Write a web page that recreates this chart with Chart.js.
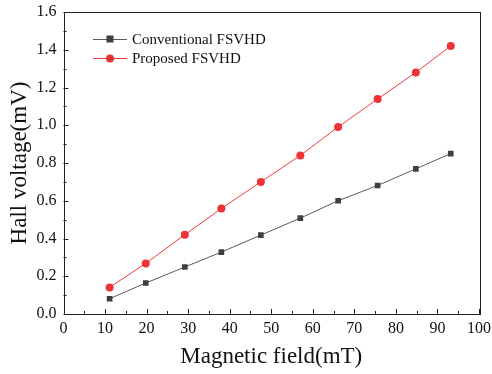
<!DOCTYPE html>
<html>
<head>
<meta charset="utf-8">
<script src="https://cdn.jsdelivr.net/npm/chart.js@4"></script>
<style>
  html, body { margin: 0; padding: 0; background: #fff; }
  canvas { display: block; }
</style>
</head>
<body>
<canvas id="hallChart" width="492" height="374"></canvas>
<script>
// magnetic field (mT) for each measurement
var fieldValues = [11.1, 19.8, 29.2, 38.0, 47.5, 57.0, 66.1, 75.6, 84.8, 93.2];
// Hall voltage (mV)
var conventionalValues = [0.081, 0.164, 0.249, 0.328, 0.418, 0.508, 0.600, 0.681, 0.769, 0.850];
var proposedValues = [0.141, 0.268, 0.420, 0.559, 0.700, 0.840, 0.991, 1.139, 1.280, 1.420];
var seriesLabels = ['Conventional FSVHD', 'Proposed FSVHD'];
var xTickValues = [0, 10, 20, 30, 40, 50, 60, 70, 80, 90, 100];
var yTickValues = [0.0, 0.2, 0.4, 0.6, 0.8, 1.0, 1.2, 1.4, 1.6];

var serif = "'Liberation Serif', 'Times New Roman', serif";

function toPoints(xs, ys) {
    return xs.map(function(x, i) { return { x: x, y: ys[i] }; });
}

// box around the plot, inward ticks and the legend in the upper left
var framePlugin = {
    id: 'frame',
    afterDraw: function(chart) {
        var ctx = chart.ctx;
        var area = chart.chartArea;
        var xs = chart.scales.x;
        var ys = chart.scales.y;
        ctx.save();
        ctx.strokeStyle = '#222';
        ctx.lineWidth = 1;
        ctx.strokeRect(Math.round(area.left) + 0.5, Math.round(area.top) + 0.5,
            Math.round(area.right - area.left), Math.round(area.bottom - area.top));

        ctx.beginPath();
        for (var v = 0; v <= 100; v += 5) {
            var px = Math.round(xs.getPixelForValue(v)) + 0.5;
            var len = (v % 10 === 0) ? 5 : 3;
            ctx.moveTo(px, area.bottom);
            ctx.lineTo(px, area.bottom - len);
        }
        for (var k = 0; k <= 16; k++) {
            var py = Math.round(ys.getPixelForValue(k / 10)) + 0.5;
            var ylen = (k % 2 === 0) ? 5 : 3;
            ctx.moveTo(area.left, py);
            ctx.lineTo(area.left + ylen, py);
        }
        ctx.stroke();

        // legend
        var rows = [39, 58];
        chart.data.datasets.forEach(function(ds, i) {
            var y = rows[i];
            ctx.strokeStyle = ds.borderColor;
            ctx.lineWidth = 1;
            ctx.beginPath();
            ctx.moveTo(93, y + 0.5);
            ctx.lineTo(127, y + 0.5);
            ctx.stroke();
            ctx.fillStyle = ds.pointBackgroundColor;
            if (ds.pointStyle === 'rect') {
                ctx.fillRect(106.5, y - 3.5, 7, 7);
            } else {
                ctx.beginPath();
                ctx.arc(110, y + 0.5, 4, 0, Math.PI * 2);
                ctx.fill();
            }
            ctx.fillStyle = '#111';
            ctx.font = '15px ' + serif;
            ctx.textBaseline = 'middle';
            ctx.textAlign = 'left';
            ctx.fillText(ds.label, 132, y + 1);
        });
        ctx.restore();
    }
};

var ctx = document.getElementById('hallChart').getContext('2d');
new Chart(ctx, {
    type: 'line',
    data: {
        datasets: [{
            label: seriesLabels[0],
            data: toPoints(fieldValues, conventionalValues),
            borderColor: '#5a5a5a',
            borderWidth: 1,
            pointStyle: 'rect',
            pointRadius: 4,
            pointBackgroundColor: '#3f3f3f',
            pointBorderColor: '#3f3f3f',
            pointBorderWidth: 0
        }, {
            label: seriesLabels[1],
            data: toPoints(fieldValues, proposedValues),
            borderColor: '#ef3b3f',
            borderWidth: 1,
            pointStyle: 'circle',
            pointRadius: 4,
            pointBackgroundColor: '#ee3338',
            pointBorderColor: '#ee3338',
            pointBorderWidth: 0
        }]
    },
    options: {
        responsive: false,
        animation: false,
        layout: { padding: { top: 12, right: 13, left: 0, bottom: 0 } },
        plugins: {
            legend: { display: false },
            tooltip: { enabled: false }
        },
        scales: {
            x: {
                type: 'linear',
                min: 0,
                max: 100,
                afterFit: function(scale) {
                    scale.height = 60;
                    scale.paddingLeft = 0;
                    scale.paddingRight = 0;
                },
                afterBuildTicks: function(scale) {
                    scale.ticks = xTickValues.map(function(v) { return { value: v }; });
                },
                grid: { display: false, drawTicks: false },
                border: { display: false },
                ticks: {
                    padding: 5,
                    color: '#111',
                    font: { family: serif, size: 16 }
                },
                title: {
                    display: true,
                    text: 'Magnetic field(mT)',
                    color: '#111',
                    font: { family: serif, size: 23 },
                    padding: { top: 4, bottom: 3 }
                }
            },
            y: {
                min: 0,
                max: 1.6,
                afterFit: function(scale) {
                    scale.width = 63.5;
                    scale.paddingTop = 0;
                    scale.paddingBottom = 0;
                },
                afterBuildTicks: function(scale) {
                    scale.ticks = yTickValues.map(function(v) { return { value: v }; });
                },
                grid: { display: false, drawTicks: false },
                border: { display: false },
                ticks: {
                    padding: 7,
                    color: '#111',
                    font: { family: serif, size: 16 },
                    callback: function(v) { return Number(v).toFixed(1); }
                },
                title: {
                    display: true,
                    text: 'Hall voltage(mV)',
                    color: '#111',
                    font: { family: serif, size: 23 },
                    padding: { top: 6, bottom: 2 }
                }
            }
        }
    },
    plugins: [framePlugin]
});
</script>
</body>
</html>
